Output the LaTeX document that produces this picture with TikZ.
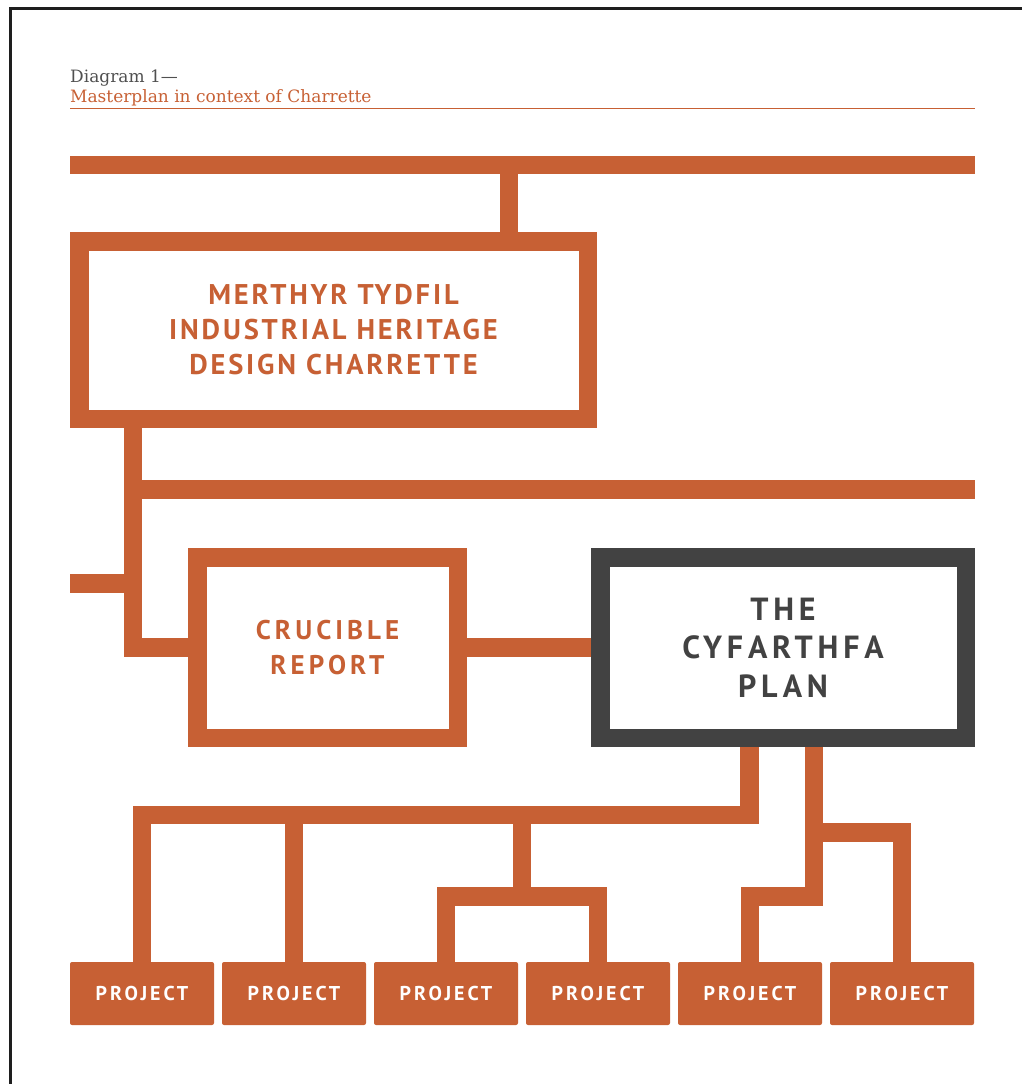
\documentclass[tikz,border=0pt]{standalone}
\usepackage{fontspec}
\setmainfont{DejaVu Serif}
\newfontfamily\boxfont[LetterSpace=15]{PT Sans}
\usetikzlibrary{calc}
\definecolor{rust}{RGB}{199,96,52}
\definecolor{slate}{RGB}{66,66,66}
\definecolor{capgray}{RGB}{80,80,80}
\definecolor{edge}{RGB}{30,30,30}
\pgfdeclarelayer{bg}
\pgfsetlayers{bg,main}
\begin{document}
\begin{tikzpicture}[x=1pt,y=-1pt,
  wire/.style={draw=rust,line width=18.5pt},
  frame/.style={draw=rust,line width=18.5pt,fill=white,inner sep=0pt,outer sep=0pt,rectangle,align=center,text=rust},
  projbox/.style={fill=rust,rectangle,rounded corners=2pt,minimum width=144pt,minimum height=63pt,inner sep=0pt,outer sep=0pt,text=white,font=\boxfont\bfseries\fontsize{20}{24}\selectfont},
  headtext/.style={anchor=base west,inner sep=0pt,font=\fontsize{17}{20}\selectfont}]

\useasboundingbox (0,0) rectangle (1022,1084);
\draw[line width=3pt,edge] (1022,8) -- (10,8) -- (10,1084);

% header
\node[headtext,text=capgray] (hd1) at (70,82) {Diagram 1—};
\node[headtext,text=rust] (hd2) at (70,102) {Masterplan in context of Charrette};
\coordinate (ruleL) at (70,108.5);
\coordinate (ruleR) at (975,108.5);
\draw[rust,line width=1.1pt] (ruleL) -- (ruleR);

% boxes
\node[frame,minimum width=508.5pt,minimum height=177.5pt,
      font=\boxfont\addfontfeature{LetterSpace=10}\bfseries\fontsize{28.5}{35}\selectfont] (merthyr) at (333.5,330)
      {MERTHYR TYDFIL\\INDUSTRIAL HERITAGE\\DESIGN CHARRETTE};
\node[frame,minimum width=260.5pt,minimum height=180.5pt,
      font=\boxfont\bfseries\fontsize{27}{35}\selectfont] (crucible) at (327.5,647.5)
      {CRUCIBLE\\REPORT};
\node[frame,draw=slate,text=slate,minimum width=365.5pt,minimum height=180.5pt,
      font=\boxfont\bfseries\fontsize{32}{38.5}\selectfont] (cyf) at (783,647.5)
      {THE\\CYFARTHFA\\PLAN};
\foreach \i in {1,...,6} {
  \node[projbox] (p\i) at ({142+(\i-1)*152},993.5) {PROJECT};
}

% connectors
\coordinate (tbL) at (70,165);
\coordinate (tbR) at (975,165);
\coordinate (tstem) at (509,165);
\coordinate (elbow) at (133,647.5);
\coordinate (mbL) at (133,489.5);
\coordinate (mbR) at (975,489.5);
\coordinate (stubL) at (70,583.5);
\coordinate (stubR) at (133,583.5);
\coordinate (busR) at (749.5,815);
\coordinate (midT) at (522,815);
\coordinate (midB) at (522,896.5);
\coordinate (rs) at (813.75,896.5);
\coordinate (rb) at (813.75,832.5);

\begin{pgfonlayer}{bg}
\draw[wire] (tbL) -- (tbR);
\draw[wire] (tstem) -- (tstem |- merthyr.north);
\draw[wire] (elbow |- merthyr.south) -- (elbow) -- (crucible.west);
\draw[wire] (mbL) -- (mbR);
\draw[wire] (stubL) -- (stubR);
\draw[wire] (crucible.east) -- (cyf.west);
\draw[wire] (busR |- cyf.south) -- (busR) -- (p1.north |- busR) -- (p1.north);
\draw[wire] (p2.north |- busR) -- (p2.north);
\draw[wire] (midT) -- (midB);
\draw[wire] (p3.north) -- (p3.north |- midB) -- (p4.north |- midB) -- (p4.north);
\draw[wire] (rs |- cyf.south) -- (rs) -- (p5.north |- rs) -- (p5.north);
\draw[wire] (rb) -- (p6.north |- rb) -- (p6.north);
\end{pgfonlayer}
\end{tikzpicture}
\end{document}
